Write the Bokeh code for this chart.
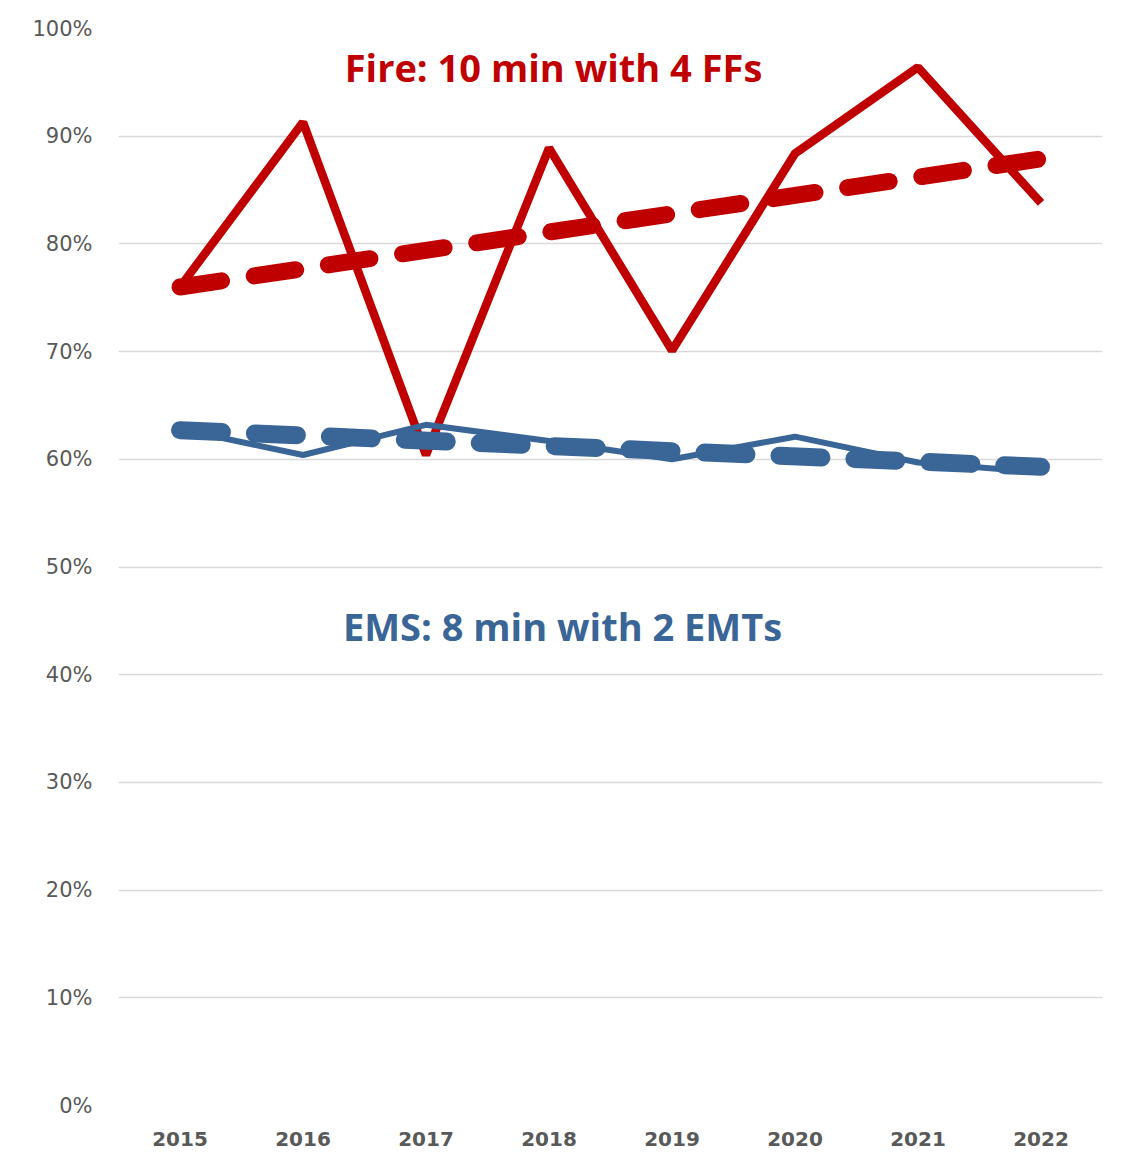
from bokeh.plotting import figure
from bokeh.models import Label, FixedTicker, NumeralTickFormatter
from bokeh.embed import file_html
from bokeh.resources import INLINE

years = ["2015", "2016", "2017", "2018", "2019", "2020", "2021", "2022"]
fire = [0.760, 0.913, 0.604, 0.889, 0.701, 0.884, 0.964, 0.838]
ems = [0.628, 0.604, 0.632, 0.617, 0.600, 0.621, 0.597, 0.588]
trend_years = ["2015", "2022"]
fire_trend = [0.760, 0.879]
ems_trend = [0.627, 0.593]
y_ticks = [0.0, 0.1, 0.2, 0.3, 0.4, 0.5, 0.6, 0.7, 0.8, 0.9, 1.0]
fire_title = "Fire: 10 min with 4 FFs"
ems_title = "EMS: 8 min with 2 EMTs"

RED = "#c00000"
BLUE = "#3a6597"

p = figure(x_range=years, y_range=(0, 1), width=1119, height=1160,
           output_backend="svg", toolbar_location=None,
           min_border_left=118, min_border_right=17,
           min_border_top=28, min_border_bottom=55)
p.outline_line_color = None
p.background_fill_color = "white"
p.border_fill_color = "white"
p.xgrid.grid_line_color = None
p.ygrid.grid_line_color = "#d9d9d9"
p.ygrid.grid_line_width = 1.5
p.yaxis.ticker = FixedTicker(ticks=y_ticks)
p.yaxis.formatter = NumeralTickFormatter(format="0%")
for ax in (p.xaxis, p.yaxis):
    ax.axis_line_color = None
    ax.major_tick_line_color = None
    ax.minor_tick_line_color = None
    ax.major_label_text_color = "#595959"
    ax.major_label_text_font = "DejaVu Sans"
p.yaxis.major_label_text_font_size = "21px"
p.yaxis.major_label_standoff = 20
p.xaxis.major_label_text_font_size = "20px"
p.xaxis.major_label_text_font_style = "bold"
p.xaxis.major_label_standoff = 20

p.line(years, fire, line_color=RED, line_width=8.5)
p.line(trend_years, fire_trend, line_color=RED, line_width=17,
       line_dash="42 33", line_cap="round")
p.line(years, ems, line_color=BLUE, line_width=6)
p.line(trend_years, ems_trend, line_color=BLUE, line_width=18,
       line_dash="42 33", line_cap="round")

p.add_layout(Label(x=435, y=1039, x_units="screen", y_units="screen",
                   text=fire_title, text_align="center", text_baseline="alphabetic",
                   text_font="Open Sans", text_font_style="bold",
                   text_font_size="38px", text_color=RED))
p.add_layout(Label(x=444, y=480, x_units="screen", y_units="screen",
                   text=ems_title, text_align="center", text_baseline="alphabetic",
                   text_font="Open Sans", text_font_style="bold",
                   text_font_size="38px", text_color=BLUE))

open("out.html", "w").write(file_html(p, INLINE))
